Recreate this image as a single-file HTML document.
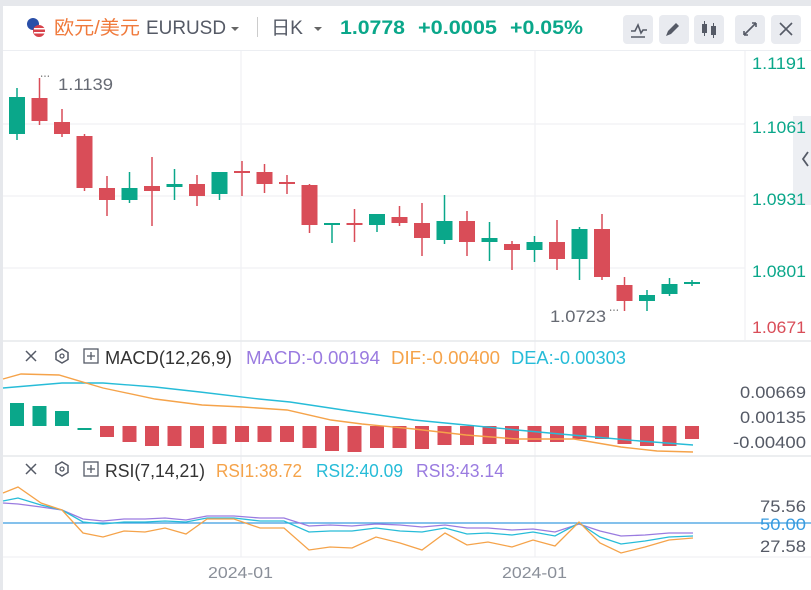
<!DOCTYPE html>
<html><head><meta charset="utf-8"><style>
html,body{margin:0;padding:0;background:#fff;}
body{width:811px;height:590px;overflow:hidden;font-family:"Liberation Sans","Noto Sans CJK SC",sans-serif;}
svg{display:block}
text{font-family:"Liberation Sans","Noto Sans CJK SC",sans-serif;}
</style></head><body>
<svg id="s" width="811" height="590" viewBox="0 0 811 590" xmlns="http://www.w3.org/2000/svg">
<rect x="0" y="0" width="811" height="590" fill="#fff"/>
<rect x="0" y="0" width="811" height="6" fill="#e6e8ec"/>
<rect x="0" y="0" width="3" height="590" fill="#e6e8ec"/>
<!-- header -->
<circle cx="33" cy="24" r="6" fill="#2a4fa8"/>
<circle cx="39" cy="31" r="6" fill="#d8424a"/>
<rect x="34" y="28" width="11" height="1.5" fill="#fff"/><rect x="34" y="32" width="11" height="1.5" fill="#fff"/>
<text x="54" y="34" font-size="19" fill="#f07a3c" textLength="86" lengthAdjust="spacingAndGlyphs">欧元/美元</text>
<text x="146" y="34" font-size="19" fill="#555a66" textLength="80" lengthAdjust="spacingAndGlyphs">EURUSD</text>
<path d="M231 27 l4 4 l4 -4z" fill="#666"/>
<rect x="257" y="17" width="1" height="20" fill="#ccc"/>
<text x="271" y="34" font-size="19" fill="#555a66" textLength="32" lengthAdjust="spacingAndGlyphs">日K</text>
<path d="M314 27 l4 4 l4 -4z" fill="#666"/>
<text x="340" y="34" font-size="19" font-weight="bold" fill="#0aa78a" textLength="65" lengthAdjust="spacingAndGlyphs">1.0778</text>
<text x="418" y="34" font-size="19" font-weight="bold" fill="#0aa78a" textLength="79" lengthAdjust="spacingAndGlyphs">+0.0005</text>
<text x="510" y="34" font-size="19" font-weight="bold" fill="#0aa78a" textLength="73" lengthAdjust="spacingAndGlyphs">+0.05%</text>
<g fill="#e9ebf0">
<rect x="623" y="15" width="30" height="29" rx="4"/><rect x="659" y="15" width="30" height="29" rx="4"/><rect x="694" y="15" width="30" height="29" rx="4"/><rect x="735" y="15" width="30" height="29" rx="4"/><rect x="771" y="15" width="30" height="29" rx="4"/>
</g>
<path d="M631 31 l4 0 l3 -6 l3 8 l2 -3 l4 0 M631 37 h14" stroke="#555a66" stroke-width="1.6" fill="none"/>
<path d="M666 36 l2 -5 l8 -8 l3 3 l-8 8z" fill="#555a66"/>
<rect x="702" y="24" width="5" height="9" fill="#555a66"/><rect x="704" y="21" width="1" height="15" fill="#555a66"/><rect x="711" y="26" width="5" height="9" fill="#555a66"/><rect x="713" y="23" width="1" height="15" fill="#555a66"/>
<path d="M744 35 l12 -12 M744 35 v-4 M744 35 h4 M756 23 h-4 M756 23 v4" stroke="#555a66" stroke-width="1.6" fill="none"/>
<path d="M780 23 l12 12 M792 23 l-12 12" stroke="#555a66" stroke-width="1.6"/>
<rect x="3" y="50" width="808" height="1" fill="#eceef2"/>
<!-- main grid -->
<g stroke="#f0f1f4" stroke-width="1.2">
<line x1="3" y1="124" x2="745" y2="124"/><line x1="3" y1="196" x2="745" y2="196"/><line x1="3" y1="268" x2="745" y2="268"/>
<line x1="241" y1="51" x2="241" y2="557"/><line x1="535" y1="51" x2="535" y2="557"/>
<line x1="745" y1="51" x2="745" y2="340"/>
</g>
<line x1="3" y1="341" x2="811" y2="341" stroke="#e6e8ec" stroke-width="1.5"/>
<line x1="3" y1="456" x2="811" y2="456" stroke="#e6e8ec" stroke-width="1.5"/>
<line x1="3" y1="557" x2="811" y2="557" stroke="#eceef2" stroke-width="1"/>
<rect x="793" y="116" width="18" height="89" fill="#e9ebf0" opacity="0.8"/>
<path d="M808 152 l-5 7 l5 7" stroke="#555a66" stroke-width="1.8" fill="none"/>
<g font-size="17" fill="#0aa78a">
<text x="752" y="69" textLength="54" lengthAdjust="spacingAndGlyphs">1.1191</text><text x="752" y="133" textLength="54" lengthAdjust="spacingAndGlyphs">1.1061</text><text x="752" y="205" textLength="54" lengthAdjust="spacingAndGlyphs">1.0931</text><text x="752" y="277" textLength="54" lengthAdjust="spacingAndGlyphs">1.0801</text><text x="752" y="333" fill="#d94d58" textLength="54" lengthAdjust="spacingAndGlyphs">1.0671</text>
</g>
<text x="58" y="90" font-size="17" fill="#666a73" textLength="55" lengthAdjust="spacingAndGlyphs">1.1139</text>
<text x="40" y="80" font-size="10" fill="#555">⋯</text>
<text x="550" y="322" font-size="17" fill="#666a73" textLength="56" lengthAdjust="spacingAndGlyphs">1.0723</text>
<text x="609" y="314" font-size="10" fill="#555">⋯</text>
<g id="candles"></g>
<!-- MACD -->
<path d="M26 351 l10 10 M36 351 l-10 10" stroke="#555a66" stroke-width="1.5"/>
<path d="M62 349 l6 3.5 v7 l-6 3.5 l-6 -3.5 v-7z" stroke="#555a66" stroke-width="1.5" fill="none"/><circle cx="62" cy="356" r="2" stroke="#555a66" stroke-width="1.3" fill="none"/>
<rect x="84" y="349" width="14" height="14" stroke="#555a66" stroke-width="1.3" fill="none"/><path d="M87 356 h8 M91 352 v8" stroke="#555a66" stroke-width="1.3"/>
<text x="105" y="364" font-size="18" fill="#333" textLength="127" lengthAdjust="spacingAndGlyphs">MACD(12,26,9)</text>
<text x="246" y="364" font-size="18" fill="#9a7be0" textLength="134" lengthAdjust="spacingAndGlyphs">MACD:-0.00194</text>
<text x="391" y="364" font-size="18" fill="#f5a34a" textLength="109" lengthAdjust="spacingAndGlyphs">DIF:-0.00400</text>
<text x="511" y="364" font-size="18" fill="#27bcd8" textLength="115" lengthAdjust="spacingAndGlyphs">DEA:-0.00303</text>
<g font-size="17" fill="#555a66"><text x="740" y="398" textLength="66" lengthAdjust="spacingAndGlyphs">0.00669</text><text x="740" y="423" textLength="66" lengthAdjust="spacingAndGlyphs">0.00135</text><text x="733" y="448" textLength="73" lengthAdjust="spacingAndGlyphs">-0.00400</text></g>
<g id="macd"></g>
<polyline fill="none" stroke="#27bcd8" stroke-width="1.4" points="3,388 62,383 103,383 155,387 200,392 259,399 290,402 350,411 414,420 466,425 517,430 560,434 595,437 640,441 693,445"/>
<polyline fill="none" stroke="#f5a34a" stroke-width="1.4" points="3,379 21,374 59,375 103,388 155,399 202,405 243,407 287,410 331,420 362,424 414,429 466,435 517,439 574,439 621,447 657,451 693,452"/>
<!-- RSI -->
<path d="M26 464 l10 10 M36 464 l-10 10" stroke="#555a66" stroke-width="1.5"/>
<path d="M62 462 l6 3.5 v7 l-6 3.5 l-6 -3.5 v-7z" stroke="#555a66" stroke-width="1.5" fill="none"/><circle cx="62" cy="469" r="2" stroke="#555a66" stroke-width="1.3" fill="none"/>
<rect x="84" y="462" width="14" height="14" stroke="#555a66" stroke-width="1.3" fill="none"/><path d="M87 469 h8 M91 465 v8" stroke="#555a66" stroke-width="1.3"/>
<text x="105" y="477" font-size="18" fill="#333" textLength="100" lengthAdjust="spacingAndGlyphs">RSI(7,14,21)</text>
<text x="216" y="477" font-size="18" fill="#f5a34a" textLength="86" lengthAdjust="spacingAndGlyphs">RSI1:38.72</text>
<text x="316" y="477" font-size="18" fill="#27bcd8" textLength="87" lengthAdjust="spacingAndGlyphs">RSI2:40.09</text>
<text x="416" y="477" font-size="18" fill="#9a7be0" textLength="88" lengthAdjust="spacingAndGlyphs">RSI3:43.14</text>
<line x1="3" y1="523" x2="811" y2="523" stroke="#3a9ce0" stroke-width="1.3"/>
<g font-size="17" fill="#555a66"><text x="760" y="512" textLength="46" lengthAdjust="spacingAndGlyphs">75.56</text><text x="760" y="552" textLength="46" lengthAdjust="spacingAndGlyphs">27.58</text><text x="760" y="530" fill="#3a9ce0" textLength="46" lengthAdjust="spacingAndGlyphs">50.00</text></g>
<polyline fill="none" stroke="#9a7be0" stroke-width="1.3" points="3,503 18,504 41,507 62,510 83,519 103,521 124,519 145,519 165,518 186,520 207,516 234,516 260,518 284,518 309,526 330,525 352,526 376,524 400,525 422,527 445,525 467,528 488,528 512,530 533,529 555,532 579,524 600,531 621,536 645,535 669,533 693,533"/>
<polyline fill="none" stroke="#27bcd8" stroke-width="1.3" points="3,501 18,498 41,505 62,510 83,522 103,524 124,522 145,522 165,521 186,522 207,518 234,518 260,521 284,521 309,532 330,531 352,531 376,528 400,531 422,532 445,528 467,534 488,533 512,535 533,532 555,536 579,523 600,537 621,544 645,541 669,537 693,536"/>
<polyline fill="none" stroke="#f5a34a" stroke-width="1.3" points="3,493 18,487 41,503 62,510 83,533 103,537 124,531 145,532 165,528 186,534 207,519 234,519 260,528 284,528 309,550 330,547 352,548 376,537 400,543 422,550 445,533 467,545 488,542 512,547 533,540 555,546 579,522 600,543 621,553 645,547 669,540 693,538"/>
<g font-size="16" fill="#8a8f99"><text x="208" y="578" textLength="65" lengthAdjust="spacingAndGlyphs">2024-01</text><text x="502" y="578" textLength="65" lengthAdjust="spacingAndGlyphs">2024-01</text></g>
</svg>
<script>
var C=[[1,97,134,88,140],[0,98,121,78,125],[0,122,134,109,137],[0,136,188,134,191],[0,188,200,176,216],[1,188,200,172,203],[0,186,191,157,226],[1,184,187,169,200],[0,184,196,175,206],[1,172,194,172,200],[0,171,173,161,196],[0,172,184,164,193],[0,182,184,175,194],[0,185,225,184,233],[1,223,225,223,243],[0,223,225,209,242],[1,214,225,214,232],[0,217,223,206,226],[0,223,238,203,256],[1,221,240,195,244],[0,221,242,211,256],[1,238,242,222,261],[0,244,250,241,270],[1,242,250,236,262],[0,242,259,220,270],[1,229,259,227,280],[0,229,277,214,280],[0,285,301,277,311],[1,295,301,290,311],[1,284,294,278,296],[1,282,284,280,286]];
var M=[403,406,411,428,437,442,446,446,448,444,442,442,442,448,451,452,448,448,449,445,445,444,444,442,442,439,439,444,446,446,439];
var ns="http://www.w3.org/2000/svg",g=document.getElementById("candles"),m=document.getElementById("macd");
function r(p,x,y,w,h,f){var e=document.createElementNS(ns,"rect");e.setAttribute("x",x);e.setAttribute("y",y);e.setAttribute("width",w);e.setAttribute("height",Math.max(h,2));e.setAttribute("fill",f);p.appendChild(e);}
for(var i=0;i<C.length;i++){var c=C[i],x=17+i*22.5,f=c[0]?"#0aa78a":"#d94d58";
r(g,x-0.75,c[3],1.5,c[4]-c[3],f);r(g,x-8,c[1],16,c[2]-c[1],f);
var y=M[i];if(i<4){r(m,x-7,y,14,426-y,"#0aa78a");}else{r(m,x-7,426,14,y-426,"#d94d58");}}
</script>
</body></html>
